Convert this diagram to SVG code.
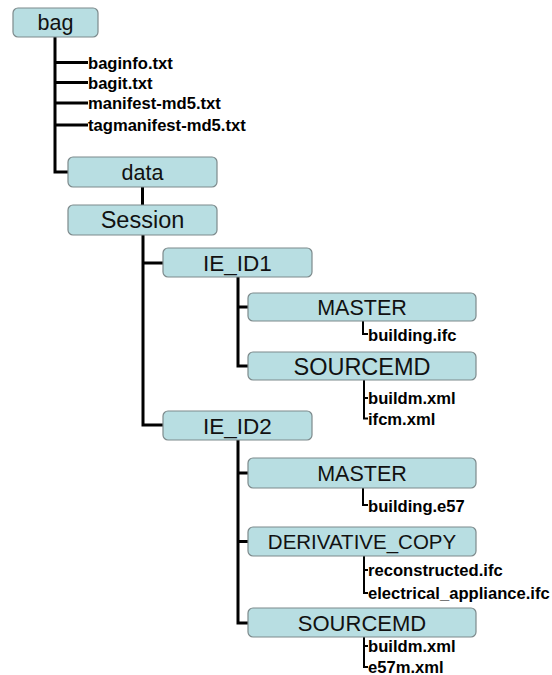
<svg xmlns="http://www.w3.org/2000/svg" width="552" height="675" viewBox="0 0 552 675">
  <style>
    .box { fill: #b8dee2; stroke: #7d8a8c; stroke-width: 1.2; }
    .lbl { font-family: "Liberation Sans", Arial, sans-serif; font-size: 21.5px; fill: #111; text-anchor: middle; }
    .file { font-family: "Liberation Sans", Arial, sans-serif; font-size: 16.6px; font-weight: bold; fill: #000; }
    .wire { fill: none; stroke: #000; stroke-width: 3; }
    .thin { fill: none; stroke: #000; stroke-width: 2; }
  </style>
  <rect width="552" height="675" fill="#fff"/>

  <g id="connectors">
    <!-- bag tree -->
    <path class="wire" d="M55 37 V172 H68"/>
    <path class="wire" d="M55 62.5 H88 M55 82.5 H88 M55 103 H88 M55 125 H88"/>
    <!-- data to Session -->
    <path class="wire" d="M142.5 187 V205"/>
    <!-- Session to IE_ID1 / IE_ID2 -->
    <path class="wire" d="M143 235 V425 H163 M143 263 H163"/>
    <!-- IE_ID1 children -->
    <path class="wire" d="M238 277 V366 H248 M238 307 H248"/>
    <path class="thin" d="M363 321 V334 H368"/>
    <path class="thin" d="M364 380 V418.5 H368 M364 398 H368"/>
    <!-- IE_ID2 children -->
    <path class="wire" d="M238 440 V623 H248 M238 473 H248 M238 541.5 H248"/>
    <path class="thin" d="M363 488 V505 H368"/>
    <path class="thin" d="M364 556 V593 H368 M364 570 H368"/>
    <path class="thin" d="M364 637 V667 H368 M364 646 H368"/>
  </g>

  <g id="bag">
    <rect class="box" x="13" y="8" width="85" height="29" rx="5"/>
    <text class="lbl" x="55.5" y="30">bag</text>
  </g>
  <g id="bag-files">
    <text class="file" x="88" y="68.5">baginfo.txt</text>
    <text class="file" x="88" y="88.5">bagit.txt</text>
    <text class="file" x="88" y="109">manifest-md5.txt</text>
    <text class="file" x="88" y="131">tagmanifest-md5.txt</text>
  </g>
  <g id="data">
    <rect class="box" x="68" y="157" width="149" height="30" rx="5"/>
    <text class="lbl" x="142.5" y="179.5">data</text>
  </g>
  <g id="session">
    <rect class="box" x="68" y="205" width="149" height="30" rx="5"/>
    <text class="lbl" x="142.5" y="228" style="font-size:23.5px">Session</text>
  </g>
  <g id="ie-id1">
    <rect class="box" x="163" y="248" width="149" height="29" rx="5"/>
    <text class="lbl" x="237.5" y="270.5" style="font-size:22.5px">IE_ID1</text>
  </g>
  <g id="master-1">
    <rect class="box" x="248" y="293" width="228" height="28" rx="5"/>
    <text class="lbl" x="362" y="314.5">MASTER</text>
    <text class="file" x="368" y="340.5">building.ifc</text>
  </g>
  <g id="sourcemd-1">
    <rect class="box" x="248" y="352" width="228" height="28" rx="5"/>
    <text class="lbl" x="362" y="374.5" style="font-size:23.5px">SOURCEMD</text>
    <text class="file" x="368" y="404">buildm.xml</text>
    <text class="file" x="368" y="424.5">ifcm.xml</text>
  </g>
  <g id="ie-id2">
    <rect class="box" x="163" y="411" width="149" height="29" rx="5"/>
    <text class="lbl" x="237.5" y="433.5" style="font-size:22.5px">IE_ID2</text>
  </g>
  <g id="master-2">
    <rect class="box" x="248" y="458" width="228" height="30" rx="5"/>
    <text class="lbl" x="362" y="480.5">MASTER</text>
    <text class="file" x="368" y="511.5">building.e57</text>
  </g>
  <g id="derivative-copy">
    <rect class="box" x="248" y="527" width="228" height="29" rx="5"/>
    <text class="lbl" x="362" y="549" style="font-size:20.5px">DERIVATIVE_COPY</text>
    <text class="file" x="368" y="576">reconstructed.ifc</text>
    <text class="file" x="368" y="599">electrical_appliance.ifc</text>
  </g>
  <g id="sourcemd-2">
    <rect class="box" x="248" y="608" width="228" height="29" rx="5"/>
    <text class="lbl" x="362" y="630.5" style="font-size:22px">SOURCEMD</text>
    <text class="file" x="368" y="652">buildm.xml</text>
    <text class="file" x="368" y="672.5">e57m.xml</text>
  </g>
</svg>
